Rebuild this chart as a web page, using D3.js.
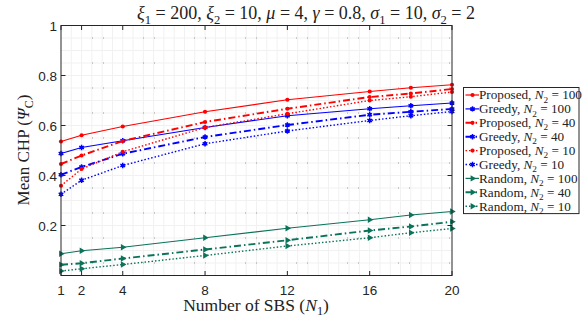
<!DOCTYPE html>
<html>
<head>
<meta charset="utf-8">
<script src="https://cdn.jsdelivr.net/npm/d3@7"></script>
<style>
  body { margin: 0; background: #fff; }
  svg { display: block; }
</style>
</head>
<body>
<div id="chart"></div>
<script>
// number of SBS on x axis
var N1 = [1, 2, 4, 8, 12, 16, 18, 20]

var proposed100 = [0.536, 0.561, 0.596, 0.655, 0.703, 0.736, 0.751, 0.763]
var greedy100   = [0.488, 0.512, 0.539, 0.592, 0.639, 0.667, 0.679, 0.690]
var proposed40  = [0.446, 0.480, 0.538, 0.614, 0.667, 0.714, 0.728, 0.746]
var greedy40    = [0.403, 0.434, 0.487, 0.554, 0.602, 0.643, 0.655, 0.666]
var proposed10  = [0.359, 0.426, 0.495, 0.592, 0.647, 0.700, 0.715, 0.734]
var greedy10    = [0.325, 0.381, 0.440, 0.527, 0.578, 0.620, 0.639, 0.656]
var random100   = [0.087, 0.099, 0.113, 0.151, 0.189, 0.223, 0.242, 0.256]
var random40    = [0.043, 0.049, 0.068, 0.104, 0.141, 0.180, 0.196, 0.215]
var random10    = [0.018, 0.027, 0.044, 0.080, 0.118, 0.151, 0.171, 0.188]

var xTicks = [1, 2, 4, 8, 12, 16, 20]
var yTicks = [0.2, 0.4, 0.6, 0.8, 1]

var red = "#ff0000"
var blue = "#0000ff"
var green = "#0b735a"

var series = [
  {name: "Proposed", n2: "100", values: proposed100, color: red, style: "solid", marker: "dot"},
  {name: "Greedy", n2: "100", values: greedy100, color: blue, style: "solid", marker: "star"},
  {name: "Proposed", n2: "40", values: proposed40, color: red, style: "dashdot", marker: "dot"},
  {name: "Greedy", n2: "40", values: greedy40, color: blue, style: "dashdot", marker: "star"},
  {name: "Proposed", n2: "10", values: proposed10, color: red, style: "dotted", marker: "dot"},
  {name: "Greedy", n2: "10", values: greedy10, color: blue, style: "dotted", marker: "star"},
  {name: "Random", n2: "100", values: random100, color: green, style: "solid", marker: "tri"},
  {name: "Random", n2: "40", values: random40, color: green, style: "dashdot", marker: "tri"},
  {name: "Random", n2: "10", values: random10, color: green, style: "dotted", marker: "tri"}
]

var width = 585
var height = 321
var pL = 61, pR = 452, pT = 25.5, pB = 275.5
var serif = "'Liberation Serif', 'DejaVu Serif', serif"
var sans = "'Liberation Sans', Arial, sans-serif"

var x = d3.scaleLinear().domain([1, 20]).range([pL, pR])
var y = d3.scaleLinear().domain([0, 1]).range([pB, pT])

var dash = {solid: null, dashdot: "7,3,1.5,3", dotted: "1.5,2"}
var lw = {solid: 1.2, dashdot: 1.9, dotted: 1.4}

var svg = d3.select("#chart").append("svg")
  .attr("width", width)
  .attr("height", height)

// rich text: parts are [text, kind] where kind is "n", "i" (italic) or "sub"
function rich(t, parts, size) {
  var shift = size * 0.25, down = false
  parts.forEach(function(p) {
    var ts = t.append("tspan").text(p[0])
    if (p[1] === "i") ts.attr("font-style", "italic")
    if (p[1] === "sub") {
      ts.attr("font-size", size * 0.7).attr("dy", shift)
      down = true
    } else if (down) {
      ts.attr("dy", -shift)
      down = false
    }
  })
  return t
}

// faint minor grid
var grid = svg.append("g")
grid.selectAll(".vminor")
  .data(d3.range(1.5, 20, 0.5)).enter()
  .append("line")
  .attr("x1", d => x(d)).attr("x2", d => x(d))
  .attr("y1", pT).attr("y2", pB)
  .attr("stroke", "#f1f1f1").attr("stroke-width", 1)
grid.selectAll(".hminor")
  .data(d3.range(0.05, 1, 0.05)).enter()
  .append("line")
  .attr("x1", pL).attr("x2", pR)
  .attr("y1", d => y(d)).attr("y2", d => y(d))
  .attr("stroke", "#f1f1f1").attr("stroke-width", 1)
// dotted grid rows
grid.selectAll(".hdot")
  .data(d3.range(0.05, 1, 0.1)).enter()
  .append("line")
  .attr("x1", pL).attr("x2", pR)
  .attr("y1", d => y(d)).attr("y2", d => y(d))
  .attr("stroke", "#9a9a9a").attr("stroke-width", 1)
  .attr("stroke-dasharray", "1,10,1,39")
  .attr("stroke-dashoffset", 20)

var line = d3.line()
  .x((d, i) => x(N1[i]))
  .y(d => y(d))

var plot = svg.append("g")

function drawMarker(g, type, color, cx, cy) {
  if (type === "dot") {
    g.append("circle").attr("cx", cx).attr("cy", cy).attr("r", 2.1).attr("fill", color)
  } else if (type === "star") {
    g.append("path")
      .attr("d", d3.symbol().type(d3.symbolAsterisk).size(20)())
      .attr("transform", "translate(" + cx + "," + cy + ")")
      .attr("stroke", color).attr("stroke-width", 1.5).attr("fill", "none")
    g.append("circle").attr("cx", cx).attr("cy", cy).attr("r", 1.7).attr("fill", color)
  } else {
    g.append("path")
      .attr("d", d3.symbol().type(d3.symbolTriangle).size(18)())
      .attr("transform", "translate(" + cx + "," + cy + ") rotate(90)")
      .attr("fill", color)
  }
}

series.forEach(function(s) {
  plot.append("path")
    .datum(s.values)
    .attr("d", line)
    .attr("fill", "none")
    .attr("stroke", s.color)
    .attr("stroke-width", lw[s.style])
    .attr("stroke-dasharray", dash[s.style])
  s.values.forEach(function(v, i) {
    drawMarker(plot, s.marker, s.color, x(N1[i]), y(v))
  })
})

// axes box with inward ticks
var axisColor = "#262626"
var ax = svg.append("g")
ax.append("rect")
  .attr("x", pL).attr("y", pT)
  .attr("width", pR - pL).attr("height", pB - pT)
  .attr("fill", "none").attr("stroke", axisColor).attr("stroke-width", 1)

xTicks.forEach(function(t) {
  ax.append("line").attr("x1", x(t)).attr("x2", x(t)).attr("y1", pB).attr("y2", pB - 4.5)
    .attr("stroke", axisColor)
  ax.append("line").attr("x1", x(t)).attr("x2", x(t)).attr("y1", pT).attr("y2", pT + 4.5)
    .attr("stroke", axisColor)
  ax.append("text").attr("x", x(t)).attr("y", 295)
    .attr("text-anchor", "middle").attr("font-family", sans).attr("font-size", 13.5)
    .attr("fill", axisColor).text(t)
})
yTicks.forEach(function(t) {
  ax.append("line").attr("x1", pL).attr("x2", pL + 4.5).attr("y1", y(t)).attr("y2", y(t))
    .attr("stroke", axisColor)
  ax.append("line").attr("x1", pR).attr("x2", pR - 4.5).attr("y1", y(t)).attr("y2", y(t))
    .attr("stroke", axisColor)
  ax.append("text").attr("x", pL - 4).attr("y", y(t) + 5)
    .attr("text-anchor", "end").attr("font-family", sans).attr("font-size", 13.5)
    .attr("fill", axisColor).text(d3.format(".1~f")(t))
})

// title
rich(svg.append("text").attr("x", 306).attr("y", 19).attr("text-anchor", "middle")
  .attr("font-family", serif).attr("font-size", 18).attr("fill", "#222"), [
  ["\u03be", "i"], ["1", "sub"], [" = 200, ", "n"],
  ["\u03be", "i"], ["2", "sub"], [" = 10, ", "n"],
  ["\u03bc", "i"], [" = 4, ", "n"],
  ["\u03b3", "i"], [" = 0.8, ", "n"],
  ["\u03c3", "i"], ["1", "sub"], [" = 10, ", "n"],
  ["\u03c3", "i"], ["2", "sub"], [" = 2", "n"]
], 18)

// x label
rich(svg.append("text").attr("x", 256).attr("y", 311).attr("text-anchor", "middle")
  .attr("font-family", serif).attr("font-size", 17.5).attr("fill", "#222"), [
  ["Number of SBS (", "n"], ["N", "i"], ["1", "sub"], [")", "n"]
], 17.5)

// y label
rich(svg.append("text").attr("transform", "translate(29,150) rotate(-90)").attr("text-anchor", "middle")
  .attr("font-family", serif).attr("font-size", 17).attr("fill", "#222"), [
  ["Mean CHP (", "n"], ["\u03a8", "i"], ["C", "sub"], [")", "n"]
], 17)

// legend
var legX = 463.5, legY = 87.5, legW = 115.5, rowH = 13.9
var leg = svg.append("g")
leg.append("rect")
  .attr("x", legX).attr("y", legY)
  .attr("width", legW).attr("height", rowH * series.length + 1)
  .attr("fill", "#fff").attr("stroke", axisColor).attr("stroke-width", 1)

series.forEach(function(s, i) {
  var cy = legY + 7.5 + i * rowH
  leg.append("line")
    .attr("x1", legX + 2).attr("x2", legX + 15.5)
    .attr("y1", cy).attr("y2", cy)
    .attr("stroke", s.color)
    .attr("stroke-width", lw[s.style])
    .attr("stroke-dasharray", dash[s.style])
  drawMarker(leg, s.marker, s.color, legX + 9, cy)
  rich(leg.append("text").attr("x", legX + 15.5).attr("y", cy + 4.3)
    .attr("font-family", serif).attr("font-size", 13.2).attr("fill", "#222"), [
    [s.name + ", ", "n"], ["N", "i"], ["2", "sub"], [" = " + s.n2, "n"]
  ], 13.2)
})
</script>
</body>
</html>
